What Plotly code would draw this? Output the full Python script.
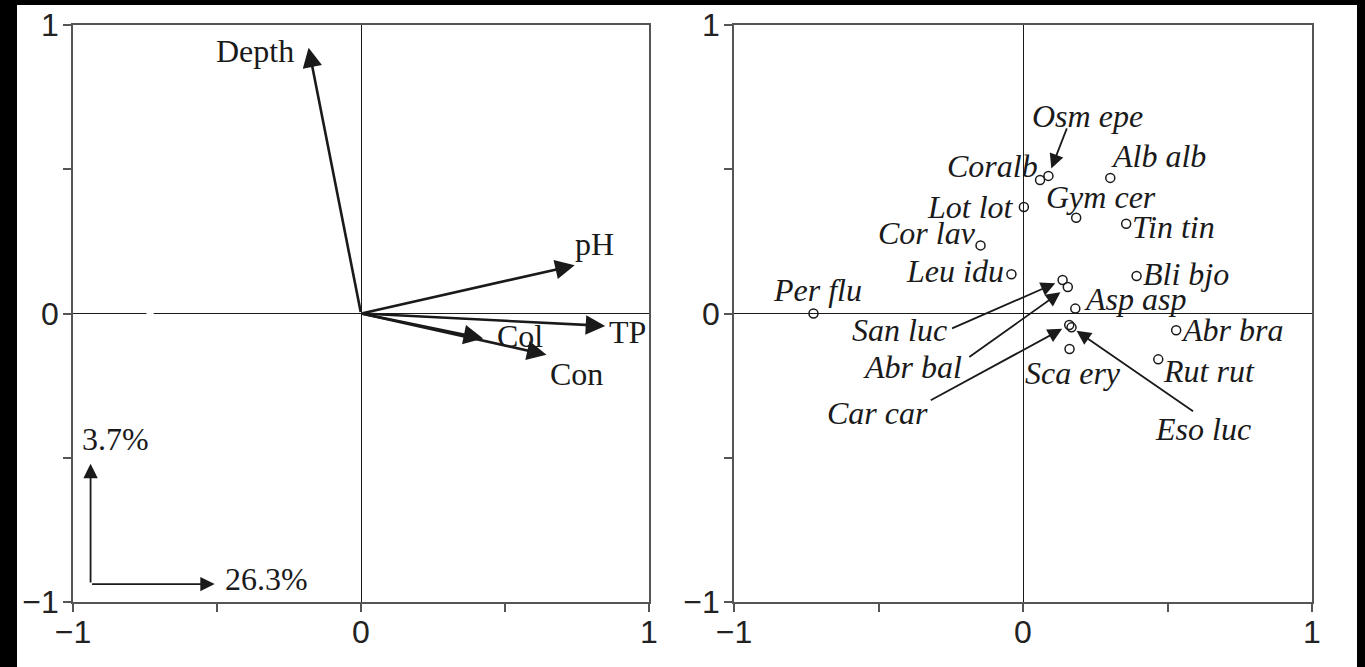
import plotly.graph_objects as go

# environmental variables (left panel)
env_names = ["Depth", "pH", "TP", "Col", "Con"]
env_x = [-0.182, 0.742, 0.848, 0.424, 0.644]
env_y = [0.921, 0.167, -0.043, -0.087, -0.143]

# variance explained by axis 1 / axis 2
axis_pct = [26.3, 3.7]

# species scores (right panel)
sp_names = ["Per flu", "Coralb", "Osm epe", "Alb alb", "Lot lot", "Gym cer",
            "Tin tin", "Cor lav", "Leu idu", "Bli bjo", "San luc", "Abr bal",
            "Asp asp", "Car car", "Eso luc", "Sca ery", "Abr bra", "Rut rut"]
sp_x = [-0.725, 0.059, 0.088, 0.302, 0.003, 0.184, 0.357, -0.147, -0.040,
        0.393, 0.137, 0.155, 0.181, 0.160, 0.168, 0.161, 0.530, 0.468]
sp_y = [0.0, 0.463, 0.477, 0.470, 0.369, 0.332, 0.311, 0.236, 0.136,
        0.130, 0.116, 0.092, 0.017, -0.040, -0.048, -0.123, -0.058, -0.159]

tick_vals = [-1, -0.5, 0, 0.5, 1]
tick_text = ["\u22121", "", "0", "", "1"]

W, H = 1365, 667
INK = "#1a1a1a"
SERIF = "Liberation Serif, Times New Roman, serif"
SANS = "Liberation Sans, Arial, sans-serif"
FS = 32

# label placement for species: xanchor, xshift, yshift, arrow tail offset (px) or None, standoff
sp_label = {
    "Per flu": ("center", 4, 24, None, 0),
    "Coralb": ("right", 0, 14, None, 0),
    "Osm epe": ("center", 39, 60, (19, -49), 8),
    "Alb alb": ("left", -1, 22, None, 0),
    "Lot lot": ("right", -8, 0, None, 0),
    "Gym cer": ("center", 25, 21, None, 0),
    "Tin tin": ("left", 4, -3, None, 0),
    "Cor lav": ("right", -3, 12, None, 0),
    "Leu idu": ("right", -5, 3, None, 0),
    "Bli bjo": ("left", 4, 2, None, 0),
    "San luc": ("right", -114, -50, (-112, 49), 8),
    "Abr bal": ("right", -104, -80, (-100, 71), 9),
    "Asp asp": ("left", 7, 10, None, 0),
    "Car car": ("right", -139, -88, (-140, 76), 8),
    "Eso luc": ("center", 131, -102, (123, 85), 6),
    "Sca ery": ("center", 3, -24, None, 0),
    "Abr bra": ("left", 3, 0, None, 0),
    "Rut rut": ("left", 3, -12, None, 0),
}

# vector label placement: xanchor, xshift, yshift
env_label = {
    "Depth": ("right", -13, -3),
    "pH": ("left", -2, 21),
    "TP": ("left", 2, -6),
    "Col": ("left", 12, 3),
    "Con": ("left", 2, -19),
}

fig = go.Figure()

fig.add_trace(go.Scatter(
    x=sp_x, y=sp_y, xaxis="x2", yaxis="y2", mode="markers",
    marker=dict(symbol="circle-open", size=9, color=INK, line=dict(width=1.5)),
    hoverinfo="text", text=sp_names, showlegend=False,
))
# invisible trace so the left axes get drawn
fig.add_trace(go.Scatter(x=[0], y=[0], mode="markers", marker=dict(opacity=0),
                         showlegend=False, hoverinfo="skip"))

ann = []
for n, x, y in zip(env_names, env_x, env_y):
    ann.append(dict(x=x, y=y, ax=0, ay=0, xref="x", yref="y", axref="x", ayref="y",
                    text="", showarrow=True, arrowhead=2, arrowsize=1.5,
                    arrowwidth=2.6, arrowcolor=INK, standoff=0))
    xa, dx, dy = env_label[n]
    ann.append(dict(x=x, y=y, xref="x", yref="y", text=n, showarrow=False,
                    xanchor=xa, yanchor="middle", xshift=dx, yshift=dy,
                    font=dict(family=SERIF, size=FS, color=INK)))

# scale arrows in the lower left corner
cx, cy = -0.939, -0.938
ann.append(dict(x=cx, y=-0.521, ax=cx, ay=cy, xref="x", yref="y", axref="x", ayref="y",
                text="", showarrow=True, arrowhead=2, arrowsize=1.6, arrowwidth=1.8,
                arrowcolor=INK))
ann.append(dict(x=-0.508, y=cy, ax=cx, ay=cy, xref="x", yref="y", axref="x", ayref="y",
                text="", showarrow=True, arrowhead=2, arrowsize=1.6, arrowwidth=1.8,
                arrowcolor=INK))
ann.append(dict(x=cx, y=-0.521, xref="x", yref="y", text=f"{axis_pct[1]}%",
                showarrow=False, xanchor="left", yanchor="middle", xshift=-11, yshift=25,
                font=dict(family=SERIF, size=FS, color=INK)))
ann.append(dict(x=-0.508, y=cy, xref="x", yref="y", text=f"{axis_pct[0]}%",
                showarrow=False, xanchor="left", yanchor="middle", xshift=8, yshift=5,
                font=dict(family=SERIF, size=FS, color=INK)))

for n, x, y in zip(sp_names, sp_x, sp_y):
    xa, dx, dy, arr, so = sp_label[n]
    if arr is not None:
        ann.append(dict(x=x, y=y, xref="x2", yref="y2", ax=arr[0], ay=arr[1],
                        text="", showarrow=True, arrowhead=2, arrowsize=1.6,
                        arrowwidth=1.8, arrowcolor=INK, standoff=so))
    ann.append(dict(x=x, y=y, xref="x2", yref="y2", text=f"<i>{n}</i>", showarrow=False,
                    xanchor=xa, yanchor="middle", xshift=dx, yshift=dy,
                    font=dict(family=SERIF, size=FS, color=INK)))

axis_style = dict(
    range=[-1, 1], automargin=False, showgrid=False,
    zeroline=True, zerolinecolor=INK, zerolinewidth=1.2,
    showline=True, mirror=True, linecolor="#555", linewidth=1.6,
    ticks="outside", ticklen=8, tickwidth=1.6, tickcolor="#555",
    tickvals=tick_vals, ticktext=tick_text,
    tickfont=dict(family=SANS, size=FS, color="#222"),
)
xstyle = dict(axis_style, ticklabelstandoff=-7)
ystyle = dict(axis_style, ticklabelstandoff=-2)
ydom = [1 - 602 / H, 1 - 25 / H]

shapes = [
    # small break in the left panel's horizontal zero line
    dict(type="line", xref="x", yref="y", x0=-0.745, x1=-0.72, y0=0, y1=0,
         line=dict(color="white", width=3)),
    # black frame edges of the scanned page
    dict(type="rect", xref="paper", yref="paper", x0=0, x1=17 / W, y0=0, y1=1,
         fillcolor="black", line_width=0, layer="above"),
    dict(type="rect", xref="paper", yref="paper", x0=0, x1=1, y0=1 - 5 / H, y1=1,
         fillcolor="black", line_width=0, layer="above"),
    dict(type="rect", xref="paper", yref="paper", x0=1357 / W, x1=1, y0=0, y1=1,
         fillcolor="black", line_width=0, layer="above"),
]

fig.update_layout(
    template="none",
    width=W, height=H, autosize=False,
    margin=dict(l=0, r=0, t=0, b=0, pad=0),
    paper_bgcolor="white", plot_bgcolor="white",
    showlegend=False,
    xaxis=dict(domain=[73 / W, 649 / W], anchor="y", **xstyle),
    yaxis=dict(domain=ydom, anchor="x", **ystyle),
    xaxis2=dict(domain=[734 / W, 1312 / W], anchor="y2", **xstyle),
    yaxis2=dict(domain=ydom, anchor="x2", **ystyle),
    annotations=ann,
    shapes=shapes,
)

# drop the default page margin so the figure sits at the window's corner
fig.write_html("out.html", config={"displayModeBar": False},
               post_script="document.body.style.margin='0';")
